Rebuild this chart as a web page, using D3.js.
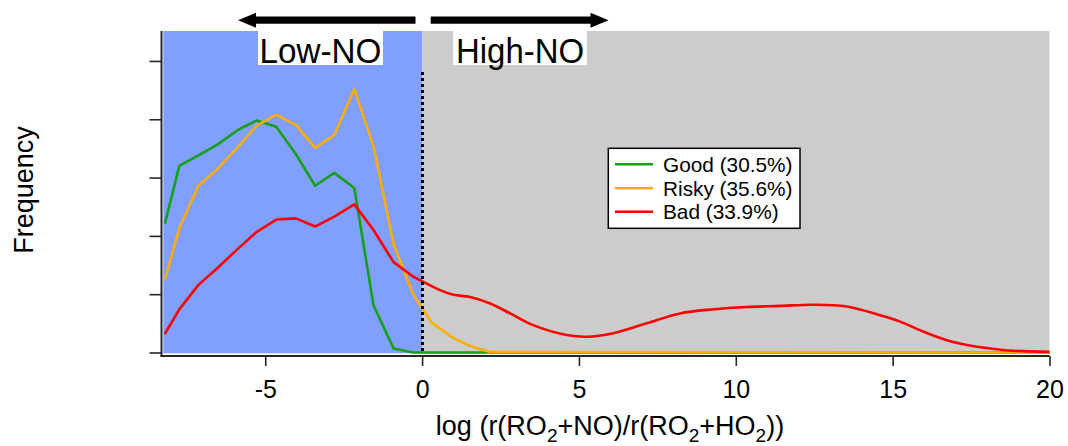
<!DOCTYPE html>
<html>
<head>
<meta charset="utf-8">
<script src="https://cdn.jsdelivr.net/npm/d3@7"></script>
<style>
  html, body { margin: 0; padding: 0; background: #ffffff; }
  svg { display: block; font-family: "Liberation Sans", Arial, sans-serif; }
</style>
</head>
<body>
<svg id="chart" width="1068" height="446"></svg>
<script>
// ---------------- data ----------------
const seriesNames = ["Good (30.5%)", "Risky (35.6%)", "Bad (33.9%)"];
const seriesColors = ["#16a016", "#ffad00", "#ff0000"];

const goodX = [-8.19, -7.74, -7.13, -6.54, -5.86, -5.27, -4.65, -4.02, -3.41, -2.80, -2.16, -1.55, -0.91, -0.28, 20];
const goodY = [2.23, 3.20, 3.38, 3.56, 3.82, 3.98, 3.87, 3.40, 2.86, 3.08, 2.82, 0.81, 0.07, 0.00, 0.00];

const riskyX = [-8.19, -7.74, -7.13, -6.54, -5.91, -5.27, -4.65, -4.02, -3.41, -2.80, -2.16, -1.55, -0.91, -0.28, 0.31, 0.99, 1.53, 2.17, 20];
const riskyY = [1.27, 2.13, 2.86, 3.14, 3.50, 3.89, 4.08, 3.90, 3.51, 3.73, 4.52, 3.54, 1.86, 0.99, 0.51, 0.25, 0.11, 0.01, 0.00];

const badLowX = [-8.19, -7.74, -7.13, -6.54, -5.91, -5.27, -4.65, -4.02, -3.41, -2.80, -2.16, -1.55, -0.91, -0.28];
const badLowY = [0.33, 0.74, 1.16, 1.44, 1.76, 2.07, 2.28, 2.30, 2.16, 2.33, 2.54, 2.10, 1.55, 1.30];
const badHighX = [-0.28, 0.57, 1.00, 1.53, 2.17, 2.81, 3.54, 4.61, 5.25, 6.09, 7.16, 8.22, 9.28, 10.35, 11.41, 12.46, 13.54,
              14.60, 15.24, 15.97, 16.73, 17.36, 18.11, 18.84, 20];
const badHighY = [1.30, 1.07, 0.99, 0.95, 0.84, 0.67, 0.47, 0.30, 0.27, 0.33, 0.50, 0.67, 0.74, 0.78, 0.80, 0.82, 0.79,
              0.64, 0.53, 0.36, 0.21, 0.13, 0.07, 0.03, 0.01];

const xTicks = [-5, 0, 5, 10, 15, 20];
const yTicks = [0, 1, 2, 3, 4, 5];
const regionLabels = ["Low-NO", "High-NO"];
const xDomain = [-8.25, 20];
const yDomain = [0, 5.5];
const threshold = 0;

// ---------------- layout ----------------
const svg = d3.select("#chart");
const plot = { left: 163.3, right: 1049.5, top: 31, bottom: 353.3 };

const x = d3.scaleLinear().domain(xDomain).range([plot.left, plot.right]);
const y = d3.scaleLinear().domain(yDomain).range([352.5, 31.8]);

// background regions
svg.append("rect")
  .attr("x", x(xDomain[0])).attr("y", plot.top)
  .attr("width", x(threshold) - x(xDomain[0])).attr("height", plot.bottom - plot.top)
  .attr("fill", "#809ffe");
svg.append("rect")
  .attr("x", x(threshold)).attr("y", plot.top)
  .attr("width", x(xDomain[1]) - x(threshold)).attr("height", plot.bottom - plot.top)
  .attr("fill", "#cccccc");

// clip
svg.append("clipPath").attr("id", "clip")
  .append("rect").attr("x", plot.left).attr("y", plot.top)
  .attr("width", plot.right - plot.left).attr("height", plot.bottom - plot.top + 2);

// region labels with white boxes
const labelBoxes = [
  { text: regionLabels[0], x0: 258, x1: 383, len: 122 },
  { text: regionLabels[1], x0: 453, x1: 587, len: 128 }
];
labelBoxes.forEach(b => {
  svg.append("rect").attr("x", b.x0).attr("y", plot.top).attr("width", b.x1 - b.x0).attr("height", 34)
    .attr("fill", "#ffffff");
  svg.append("text").attr("x", (b.x0 + b.x1) / 2).attr("y", 62.5)
    .attr("text-anchor", "middle").attr("font-size", 35).attr("fill", "#000")
    .attr("textLength", b.len).attr("lengthAdjust", "spacingAndGlyphs")
    .text(b.text);
});

// arrows
function arrow(xFrom, xTo, yc) {
  const dir = Math.sign(xTo - xFrom);
  const headLen = 18, headHalf = 7.5, shaftHalf = 3.6;
  const xb = xTo - dir * headLen;
  const pts = [
    [xFrom, yc - shaftHalf], [xb, yc - shaftHalf], [xb, yc - headHalf], [xTo, yc],
    [xb, yc + headHalf], [xb, yc + shaftHalf], [xFrom, yc + shaftHalf]
  ];
  svg.append("path").attr("d", d3.line()(pts) + "Z").attr("fill", "#000");
}
arrow(415.5, 238, 20.2);
arrow(430.7, 608.5, 20.2);

// series
const lineGen = d3.line().x(d => x(d[0])).y(d => y(d[1]));
const series = [
  { parts: [[goodX, goodY, d3.curveLinear]] },
  { parts: [[riskyX, riskyY, d3.curveLinear]] },
  { parts: [[badLowX, badLowY, d3.curveLinear], [badHighX, badHighY, d3.curveCatmullRom.alpha(0.5)]] }
];
const gLines = svg.append("g").attr("clip-path", "url(#clip)");
series.forEach((s, i) => {
  s.parts.forEach(([xs, ys, curve]) => {
    const pts = xs.map((v, k) => [v, ys[k]]);
    gLines.append("path")
      .attr("d", lineGen.curve(curve)(pts))
      .attr("fill", "none")
      .attr("stroke", seriesColors[i])
      .attr("stroke-width", 2.6)
      .attr("stroke-linejoin", "round")
      .attr("stroke-linecap", "round");
  });
});

// dotted threshold line
svg.append("line")
  .attr("x1", Math.round(x(threshold)) + 0.5).attr("x2", Math.round(x(threshold)) + 0.5)
  .attr("y1", 72).attr("y2", plot.bottom)
  .attr("stroke", "#000").attr("stroke-width", 3)
  .attr("stroke-dasharray", "3,3");

// axes
const axisColor = "#262626";
const xAxisY = 356;
const gx = svg.append("g").attr("transform", `translate(0,${xAxisY})`)
  .call(d3.axisBottom(x).tickValues(xTicks).tickSize(10).tickSizeOuter(0).tickFormat(d3.format("d")));
gx.select(".domain").remove();
gx.selectAll(".tick line").attr("stroke", axisColor).attr("stroke-width", 1.6);
gx.selectAll(".tick text").attr("y", 42).attr("dy", null)
  .attr("font-size", 25).attr("fill", "#000")
  .attr("font-family", "'Liberation Sans', Arial, sans-serif")
  .text(d => d < 0 ? "-" + Math.abs(d) : d);

const yAxisX = 161.5;
const gy = svg.append("g").attr("transform", `translate(${yAxisX},0)`)
  .call(d3.axisLeft(y).tickValues(yTicks).tickSize(12).tickSizeOuter(0).tickFormat(""));
gy.select(".domain").remove();
gy.selectAll(".tick line").attr("stroke", axisColor).attr("stroke-width", 1.6);

svg.append("line").attr("x1", yAxisX).attr("x2", yAxisX).attr("y1", plot.top).attr("y2", xAxisY + 0.8)
  .attr("stroke", axisColor).attr("stroke-width", 2);
svg.append("line").attr("x1", yAxisX - 1).attr("x2", plot.right).attr("y1", xAxisY).attr("y2", xAxisY)
  .attr("stroke", axisColor).attr("stroke-width", 2);

// axis titles
const xt = svg.append("text").attr("x", 610).attr("y", 435)
  .attr("text-anchor", "middle").attr("font-size", 27).attr("fill", "#000");
const parts = [["log (r(RO", 0], ["2", 1], ["+NO)/r(RO", 0], ["2", 1], ["+HO", 0], ["2", 1], ["))", 0]];
parts.forEach(([t, sub], i) => {
  const ts = xt.append("tspan").text(t);
  if (sub) ts.attr("font-size", 19).attr("dy", 7);
  else if (i > 0) ts.attr("dy", -7);
});

svg.append("text")
  .attr("transform", "translate(33,190) rotate(-90)")
  .attr("text-anchor", "middle").attr("font-size", 27).attr("fill", "#000")
  .text("Frequency");

// legend
const lg = svg.append("g");
lg.append("rect").attr("x", 608.3).attr("y", 148.3).attr("width", 191.7).attr("height", 80)
  .attr("fill", "#ffffff").attr("stroke", "#000").attr("stroke-width", 1.5);
const rowY = [164.3, 188.2, 211.8];
seriesNames.forEach((name, i) => {
  lg.append("line").attr("x1", 615).attr("x2", 653).attr("y1", rowY[i]).attr("y2", rowY[i])
    .attr("stroke", seriesColors[i]).attr("stroke-width", 2.6);
  lg.append("text").attr("x", 663).attr("y", rowY[i] + 7.3)
    .attr("font-size", 20.8).attr("fill", "#000").text(name);
});
</script>
</body>
</html>
